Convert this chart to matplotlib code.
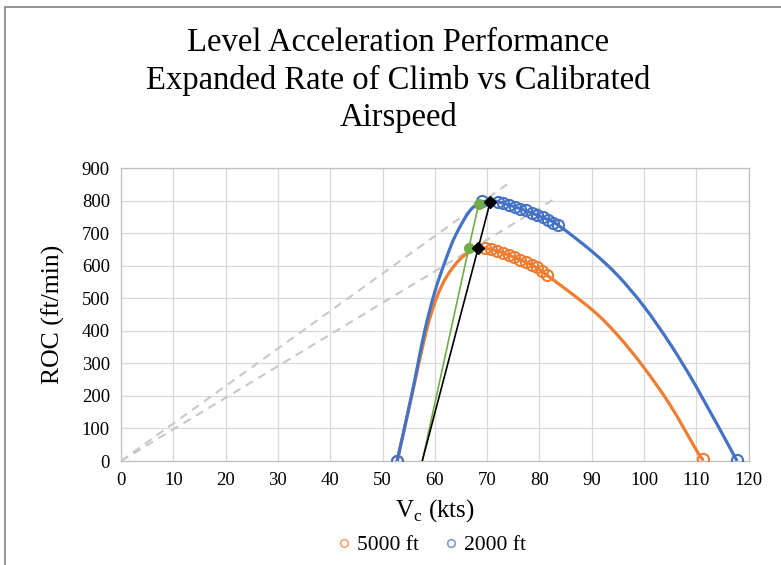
import matplotlib
matplotlib.use("Agg")
import matplotlib.pyplot as plt
from matplotlib.patches import Rectangle, PathPatch
from matplotlib.path import Path
from matplotlib.lines import Line2D

# ---------------- data ----------------
title = "Level Acceleration Performance\nExpanded Rate of Climb vs Calibrated\nAirspeed"
x_ticks = list(range(0, 121, 10))
y_ticks = list(range(0, 901, 100))

# 2000 ft test points
v2000_pts = [52.8, 69.0, 72.1, 73.1, 74.2, 75.3, 76.3, 77.4, 78.5, 79.5, 80.6, 81.7, 82.6, 83.6, 117.7]
roc2000_pts = [0, 799, 797, 792, 786, 781, 776, 771, 763, 756, 749, 740, 733, 725, 3]
# 2000 ft fitted curve
v2000_fit = [52.8, 55.6, 58.0, 60.0, 62.0, 64.0, 67.0, 70.0, 72.1, 76.3, 80.6, 83.6,
             90.0, 95.0, 100.0, 105.0, 110.0, 117.7]
roc2000_fit = [0, 205, 395, 520, 615, 695, 775, 800, 797, 776, 749, 725,
               645, 570, 475, 360, 228, 3]

# 5000 ft test points
v5000_pts = [52.8, 69.6, 70.8, 71.9, 73.0, 74.1, 75.2, 76.3, 77.4, 78.5, 79.6, 80.5, 81.4, 111.2]
roc5000_pts = [0, 655, 651, 646, 640, 633, 626, 618, 611, 603, 595, 585, 572, 5]
# 5000 ft fitted curve
v5000_fit = [52.8, 55.8, 58.3, 60.3, 62.3, 64.8, 67.1, 69.0, 71.9, 75.2, 78.5, 81.4,
             90.0, 95.0, 100.0, 105.0, 110.0, 111.2]
roc5000_fit = [0, 215, 395, 500, 568, 620, 647, 655, 646, 626, 603, 572,
               466, 386, 287, 172, 34, 5]

# tangent (green) and max (black) construction lines
v_green = [57.6, 66.5, 68.4]
roc_green = [0, 655, 790]
v_black = [57.6, 68.3, 70.6]
roc_black = [0, 655, 797]

# dashed lines from origin
v_dash1 = [0, 74.0]
roc_dash1 = [0, 853]
v_dash2 = [0, 83.0]
roc_dash2 = [0, 807]

series_labels = ["5000 ft", "2000 ft"]

# ---------------- style ----------------
BLUE = "#4472C4"
ORANGE = "#ED7D31"
GREEN = "#70AD47"
FONT = "Liberation Serif"


def smooth_path(xs, ys):
    """Excel-style smoothed line: cubic Bezier segments (Catmull-Rom control points)."""
    pts = list(zip(xs, ys))
    n = len(pts)
    verts = [pts[0]]
    codes = [Path.MOVETO]
    for i in range(n - 1):
        p0 = pts[i - 1] if i > 0 else pts[i]
        p1 = pts[i]
        p2 = pts[i + 1]
        p3 = pts[i + 2] if i + 2 < n else pts[i + 1]
        c1 = (p1[0] + (p2[0] - p0[0]) / 6.0, p1[1] + (p2[1] - p0[1]) / 6.0)
        c2 = (p2[0] - (p3[0] - p1[0]) / 6.0, p2[1] - (p3[1] - p1[1]) / 6.0)
        verts += [c1, c2, p2]
        codes += [Path.CURVE4] * 3
    return Path(verts, codes)


fig = plt.figure(figsize=(7.81, 5.65), dpi=100)
fig.patch.set_facecolor("white")
ax = fig.add_axes([121/781, 1-461/565, (748.6-121)/781, (461-168.3)/565])

ax.set_xlim(0, 120)
ax.set_ylim(0, 900)
ax.set_xticks(x_ticks)
ax.set_yticks(y_ticks)
ax.grid(True, color="#d9d9d9", lw=0.9)
ax.set_axisbelow(True)
for s in ax.spines.values():
    s.set_color("#bfbfbf")
    s.set_linewidth(0.9)
ax.tick_params(length=0, labelsize=13.5, pad=8)
for lab in ax.get_xticklabels() + ax.get_yticklabels():
    lab.set_fontfamily(FONT)

# dashed
ax.plot(v_dash1, roc_dash1, ls=(0, (4, 3)), color="#c8c8c8", lw=1.5, zorder=2)
ax.plot(v_dash2, roc_dash2, ls=(0, (4, 3)), color="#c8c8c8", lw=1.5, zorder=2)

# fitted curves (smoothed)
ax.add_patch(PathPatch(smooth_path(v5000_fit, roc5000_fit), fill=False, edgecolor=ORANGE,
                       lw=2.3, zorder=3, capstyle="round"))
ax.add_patch(PathPatch(smooth_path(v2000_fit, roc2000_fit), fill=False, edgecolor=BLUE,
                       lw=2.3, zorder=3, capstyle="round"))

# test points
ax.plot(v5000_pts, roc5000_pts, ls="none", marker="o", ms=8, mfc="none", mec=ORANGE, mew=1.5, zorder=4)
ax.plot(v2000_pts, roc2000_pts, ls="none", marker="o", ms=8, mfc="none", mec=BLUE, mew=1.5, zorder=4)

# construction lines
ax.plot(v_green, roc_green, color=GREEN, lw=1.2, zorder=5)
ax.plot(v_green[1:], roc_green[1:], ls="none", marker="o", ms=7, color=GREEN, zorder=6)
ax.plot(v_black, roc_black, color="black", lw=1.2, zorder=5)
ax.plot(v_black[1:], roc_black[1:], ls="none", marker="D", ms=6, color="black", zorder=6)

# labels
ax.set_xlabel("V$_\\mathregular{c}$ (kts)", fontsize=18, fontfamily=FONT, labelpad=6)
ax.set_ylabel("ROC (ft/min)", fontsize=18.5, fontfamily=FONT, labelpad=12)
fig.text(0.51, 0.858, title, ha="center", va="center", fontsize=23.5,
         fontfamily=FONT, linespacing=1.27)

handles = [Line2D([], [], ls="none", marker="o", ms=5.5, mfc="none", mec=ORANGE, mew=1.2, alpha=0.7),
           Line2D([], [], ls="none", marker="o", ms=5.5, mfc="none", mec=BLUE, mew=1.2, alpha=0.7)]
fig.legend(handles, series_labels, loc="center", bbox_to_anchor=(0.55, 1-545/565), ncol=2,
           frameon=False, prop={"family": FONT, "size": 15.5}, handletextpad=0.1,
           columnspacing=1.0, handlelength=1.0)

# outer chart border (partially cropped)
fig.add_artist(Rectangle((5/781, -0.2), 1.3, 1.2 - 6.5/565, transform=fig.transFigure,
                         fill=False, edgecolor="#8c8c8c", lw=1.3))

fig.savefig("out.png", dpi=100)
